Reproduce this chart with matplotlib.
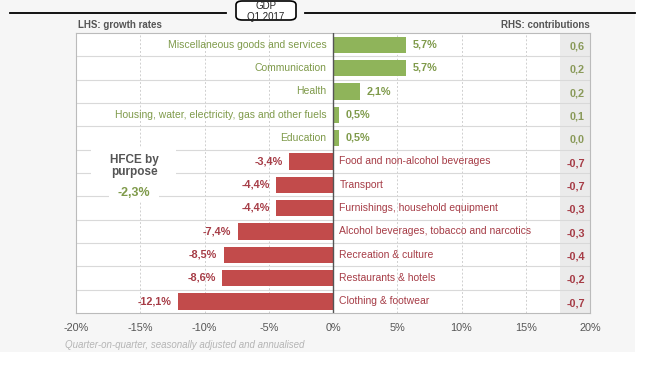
import matplotlib
matplotlib.use("Agg")
import matplotlib.pyplot as plt
from matplotlib.patches import Rectangle, FancyBboxPatch

plt.rcParams['font.family'] = ['Liberation Sans', 'DejaVu Sans']

categories = [
    "Miscellaneous goods and services",
    "Communication",
    "Health",
    "Housing, water, electricity, gas and other fuels",
    "Education",
    "Food and non-alcohol beverages",
    "Transport",
    "Furnishings, household equipment",
    "Alcohol beverages, tobacco and narcotics",
    "Recreation & culture",
    "Restaurants & hotels",
    "Clothing & footwear",
]
growth = [5.7, 5.7, 2.1, 0.5, 0.5, -3.4, -4.4, -4.4, -7.4, -8.5, -8.6, -12.1]
contrib = [0.6, 0.2, 0.2, 0.1, 0.0, -0.7, -0.7, -0.3, -0.3, -0.4, -0.2, -0.7]
xticks = [-20, -15, -10, -5, 0, 5, 10, 15, 20]
total_label = "-2,3%"

def fmt(v, d=1):
    return f"{v:.{d}f}".replace(".", ",")

GREEN = "#8fb45a"
RED = "#c24b4b"
GREEN_TXT = "#7f9a4a"
RED_TXT = "#a63c46"
GRAY_TXT = "#555555"

W, H = 645, 380
fig = plt.figure(figsize=(6.45, 3.8), dpi=100)
fig.patch.set_facecolor("white")

def fx(px):
    return px / W

def fy(py):
    return 1 - py / H

# light gray panel background
bg = Rectangle((0, fy(352)), fx(635), 352 / H,
               transform=fig.transFigure, facecolor="#f6f6f6",
               edgecolor="none", zorder=-10)
fig.add_artist(bg)

ax = fig.add_axes([fx(76), fy(313), (590 - 76) / W, (313 - 33) / H])
ax.set_zorder(1)
ax.set_facecolor("white")
n = len(categories)
ax.set_xlim(-20, 20)
ax.set_ylim(n - 0.5, -0.5)

# shaded contributions column
ax.axvspan(17.7, 20, color="#ebebeb", zorder=0.5, lw=0)

# grid
for xv in [-15, -10, -5, 5, 10, 15]:
    ax.axvline(xv, color="#cfcfcf", lw=0.7, ls=(0, (2, 2)), zorder=1)
for i in range(n - 1):
    ax.axhline(i + 0.5, color="#d9d9d9", lw=0.8, zorder=1)

ys = list(range(n))
colors = [GREEN if v >= 0 else RED for v in growth]
ax.barh(ys, growth, height=0.7, color=colors, zorder=2)
ax.axvline(0, color="#555555", lw=1.0, zorder=3)

for y, c, v, cv in zip(ys, categories, growth, contrib):
    if v >= 0:
        ax.text(-0.5, y, c, ha="right", va="center", fontsize=7.5, color=GREEN_TXT, zorder=4)
        ax.text(v + 0.5, y, fmt(v) + "%", ha="left", va="center", fontsize=7.8,
                color=GREEN_TXT, fontweight="bold", zorder=4)
        ax.text(19.6, y + 0.08, fmt(cv), ha="right", va="center", fontsize=7.8,
                color="#8a9a5a", fontweight="bold", zorder=4)
    else:
        ax.text(0.5, y, c, ha="left", va="center", fontsize=7.5, color=RED_TXT, zorder=4)
        ax.text(v - 0.5, y, fmt(v) + "%", ha="right", va="center", fontsize=7.8,
                color=RED_TXT, fontweight="bold", zorder=4)
        ax.text(19.6, y + 0.08, fmt(cv), ha="right", va="center", fontsize=7.8,
                color=RED_TXT, fontweight="bold", zorder=4)

# HFCE box (white label backgrounds), in figure pixel coords
for (x0, y0, x1, y1) in [(91, 148, 176, 183), (109, 184, 159, 201)]:
    fig.add_artist(Rectangle((fx(x0), fy(y1)), (x1 - x0) / W, (y1 - y0) / H,
                             transform=fig.transFigure, facecolor="white",
                             edgecolor="none", zorder=5))
fig.text(fx(134), fy(160), "HFCE by", ha="center", va="center", fontsize=8.5,
         color=GRAY_TXT, fontweight="bold", zorder=6)
fig.text(fx(134), fy(172.5), "purpose", ha="center", va="center", fontsize=8.5,
         color=GRAY_TXT, fontweight="bold", zorder=6)
fig.text(fx(134), fy(193), total_label, ha="center", va="center", fontsize=9,
         color=GREEN_TXT, fontweight="bold", zorder=6)

ax.set_xticks(xticks)
ax.set_xticklabels([f"{t}%" for t in xticks], fontsize=7.8, color=GRAY_TXT)
ax.tick_params(axis="x", length=0, pad=7)
ax.set_yticks([])
for s in ax.spines.values():
    s.set_color("#bbbbbb")
    s.set_linewidth(0.8)

# header
fig.text(fx(78), fy(25), "LHS: growth rates", fontsize=7, color=GRAY_TXT,
         fontweight="bold", va="center", ha="left")
fig.text(fx(590), fy(25), "RHS: contributions", fontsize=7, color=GRAY_TXT,
         fontweight="bold", va="center", ha="right")
fig.add_artist(plt.Line2D([fx(10), fx(226)], [fy(13)] * 2,
                          transform=fig.transFigure, color="black", lw=1.3))
fig.add_artist(plt.Line2D([fx(305), fx(635)], [fy(13)] * 2,
                          transform=fig.transFigure, color="black", lw=1.3))
box = FancyBboxPatch((fx(236), fy(20)), 60 / W, 19 / H,
                     boxstyle="round,pad=0,rounding_size=0.01",
                     transform=fig.transFigure, facecolor="white",
                     edgecolor="black", lw=1.2, zorder=2)
fig.add_artist(box)
fig.text(fx(266), fy(6), "GDP", fontsize=7, ha="center",
         va="center", color="#222222", zorder=3)
fig.text(fx(266), fy(16.5), "Q1 2017", fontsize=7, ha="center",
         va="center", color="#222222", zorder=3)

fig.text(fx(65), fy(345), "Quarter-on-quarter, seasonally adjusted and annualised",
         fontsize=7, style="italic", color="#b5b5b5", va="center", ha="left")

fig.savefig("out.png", dpi=100)
